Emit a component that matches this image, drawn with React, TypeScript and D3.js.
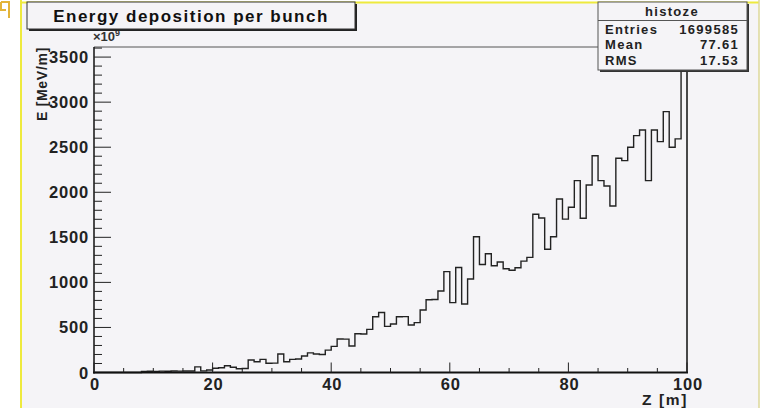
import React from 'react';
import * as d3 from 'd3';

// bin contents, 100 bins of 1 m from z=0 to z=100 (units of 1e9 MeV/m)
const binValues = [
  0, 0, 0, 0, 0, 0, 0, 0, 12, 14,
  13, 15, 14, 16, 15, 17, 16, 62, 18, 28,
  47, 53, 75, 58, 42, 45, 139, 120, 146, 102,
  104, 205, 120, 146, 150, 183, 218, 205, 200, 248,
  290, 372, 370, 294, 430, 427, 479, 619, 666, 512,
  538, 619, 620, 527, 553, 694, 808, 810, 905, 1119,
  775, 1165, 760, 1038, 1507, 1198, 1318, 1185, 1226, 1152,
  1134, 1162, 1236, 1277, 1756, 1714, 1367, 1507, 1926, 1702,
  1833, 2129, 1711, 2081, 2406, 2129, 2070, 1848, 2377, 2351,
  2499, 2628, 2691, 2129, 2691, 2562, 2895, 2499, 2592, 3440,
];
const xMajorTicks = [0, 20, 40, 60, 80, 100];
const yMajorTicks = [0, 500, 1000, 1500, 2000, 2500, 3000, 3500];
const statsLabels = ['Entries', 'Mean', 'RMS'];
const statsValues = ['1699585', '77.61', '17.53'];

const FONT = '"Liberation Sans", Arial, Helvetica, sans-serif';

export default function App() {
  const width = 762;
  const height = 408;

  const x = d3.scaleLinear().domain([0, 100]).range([94, 687]);
  const yMax = d3.max(binValues)! * 1.05;
  const y = d3.scaleLinear().domain([0, yMax]).range([372.5, 47]);

  const pts: [number, number][] = [[0, 0]];
  binValues.forEach((v, i) => pts.push([i, v]));
  pts.push([100, binValues[binValues.length - 1]]);
  pts.push([100, 0]);
  const histPath = d3.line<[number, number]>()
    .x(d => x(d[0]))
    .y(d => y(d[1]))
    .curve(d3.curveStepAfter)(pts);

  const xMinor = d3.range(0, 101, 5).filter(v => v % 20 !== 0);
  const yMinor = d3.range(0, yMax, 100).filter(v => v % 500 !== 0);

  return (
    <svg width={width} height={height} style={{ display: 'block' }} fontFamily={FONT}>
      <style>{'body{margin:0}'}</style>
      <rect x={0} y={0} width={width} height={height} fill="#ffffff" />
      <rect x={21} y={3} width={738} height={405} fill="#f5f4f7" />
      {/* yellow canvas border */}
      <line x1={21} y1={0} x2={21} y2={408} stroke="#eeea3e" strokeWidth={2} />
      <line x1={21} y1={2.5} x2={759} y2={2.5} stroke="#eeea3e" strokeWidth={2} />
      <line x1={759} y1={0} x2={759} y2={408} stroke="#dcd89a" strokeWidth={1.5} />
      <path d="M1,2 H9 V18 M1,2 V10 H6" fill="none" stroke="#e3b43a" strokeWidth={2} />

      {/* frame */}
      <line x1={x(0)} y1={47} x2={x(100)} y2={47} stroke="#555" strokeWidth={1} />
      <line x1={x(100)} y1={47} x2={x(100)} y2={y(0)} stroke="#555" strokeWidth={1} />

      {/* histogram */}
      <path d={histPath ?? ''} fill="none" stroke="#222" strokeWidth={1.4} />

      {/* y axis */}
      <line x1={94} y1={47} x2={94} y2={373.5} stroke="#111" strokeWidth={1.5} />
      {yMajorTicks.map(v => (
        <g key={'ym' + v}>
          <line x1={94} x2={111} y1={y(v)} y2={y(v)} stroke="#222" strokeWidth={1} />
          <text x={89} y={y(v) + 6} textAnchor="end" fontSize={16.5} fontWeight="bold"
            letterSpacing={0.8} fill="#222">{v}</text>
        </g>
      ))}
      {yMinor.map(v => (
        <line key={'yn' + v} x1={94} x2={102} y1={y(v)} y2={y(v)} stroke="#222" strokeWidth={1} />
      ))}
      <text x={93} y={41} fontSize={13} fontWeight="bold" fill="#333">
        ×10<tspan fontSize={9} dy={-5}>9</tspan>
      </text>
      <text transform="translate(47,47) rotate(-90)" textAnchor="end" fontSize={14}
        fontWeight="bold" letterSpacing={0.7} fill="#222">E [MeV/m]</text>

      {/* x axis */}
      <line x1={93} y1={372.5} x2={688} y2={372.5} stroke="#111" strokeWidth={2} />
      {xMajorTicks.map(v => (
        <g key={'xm' + v}>
          <line x1={x(v)} x2={x(v)} y1={372.5} y2={362.5} stroke="#222" strokeWidth={1} />
          <text x={x(v) + 1} y={389.5} textAnchor="middle" fontSize={16.5} fontWeight="bold"
            letterSpacing={0.8} fill="#222">{v}</text>
        </g>
      ))}
      {xMinor.map(v => (
        <line key={'xn' + v} x1={x(v)} x2={x(v)} y1={372.5} y2={368} stroke="#222" strokeWidth={1} />
      ))}
      <text x={688} y={405} textAnchor="end" fontSize={15.5} fontWeight="bold"
        letterSpacing={1.6} fill="#222">Z [m]</text>

      {/* title box */}
      <rect x={29} y={4} width={328} height={27} fill="#222" />
      <rect x={27} y={2} width={328} height={27} fill="#f5f4f7" stroke="#333" strokeWidth={1} />
      <text x={191} y={22} textAnchor="middle" fontSize={17} fontWeight="bold"
        letterSpacing={1.5} fill="#111">Energy deposition per bunch</text>

      {/* stats box */}
      <rect x={600} y={4} width={149} height={68} fill="#333" />
      <rect x={598} y={2} width={149} height={68} fill="#f5f4f7" stroke="#555" strokeWidth={1} />
      <line x1={598} x2={747} y1={20.5} y2={20.5} stroke="#555" strokeWidth={1} />
      <text x={672} y={16} textAnchor="middle" fontSize={13} fontWeight="bold"
        letterSpacing={1.3} fill="#222">histoze</text>
      {statsLabels.map((s, i) => (
        <g key={s}>
          <text x={605} y={33.5 + i * 15.5} fontSize={13} fontWeight="bold" letterSpacing={1.3}
            fill="#222">{s}</text>
          <text x={739} y={33.5 + i * 15.5} textAnchor="end" fontSize={13} fontWeight="bold"
            letterSpacing={1.3} fill="#222">{statsValues[i]}</text>
        </g>
      ))}
    </svg>
  );
}
